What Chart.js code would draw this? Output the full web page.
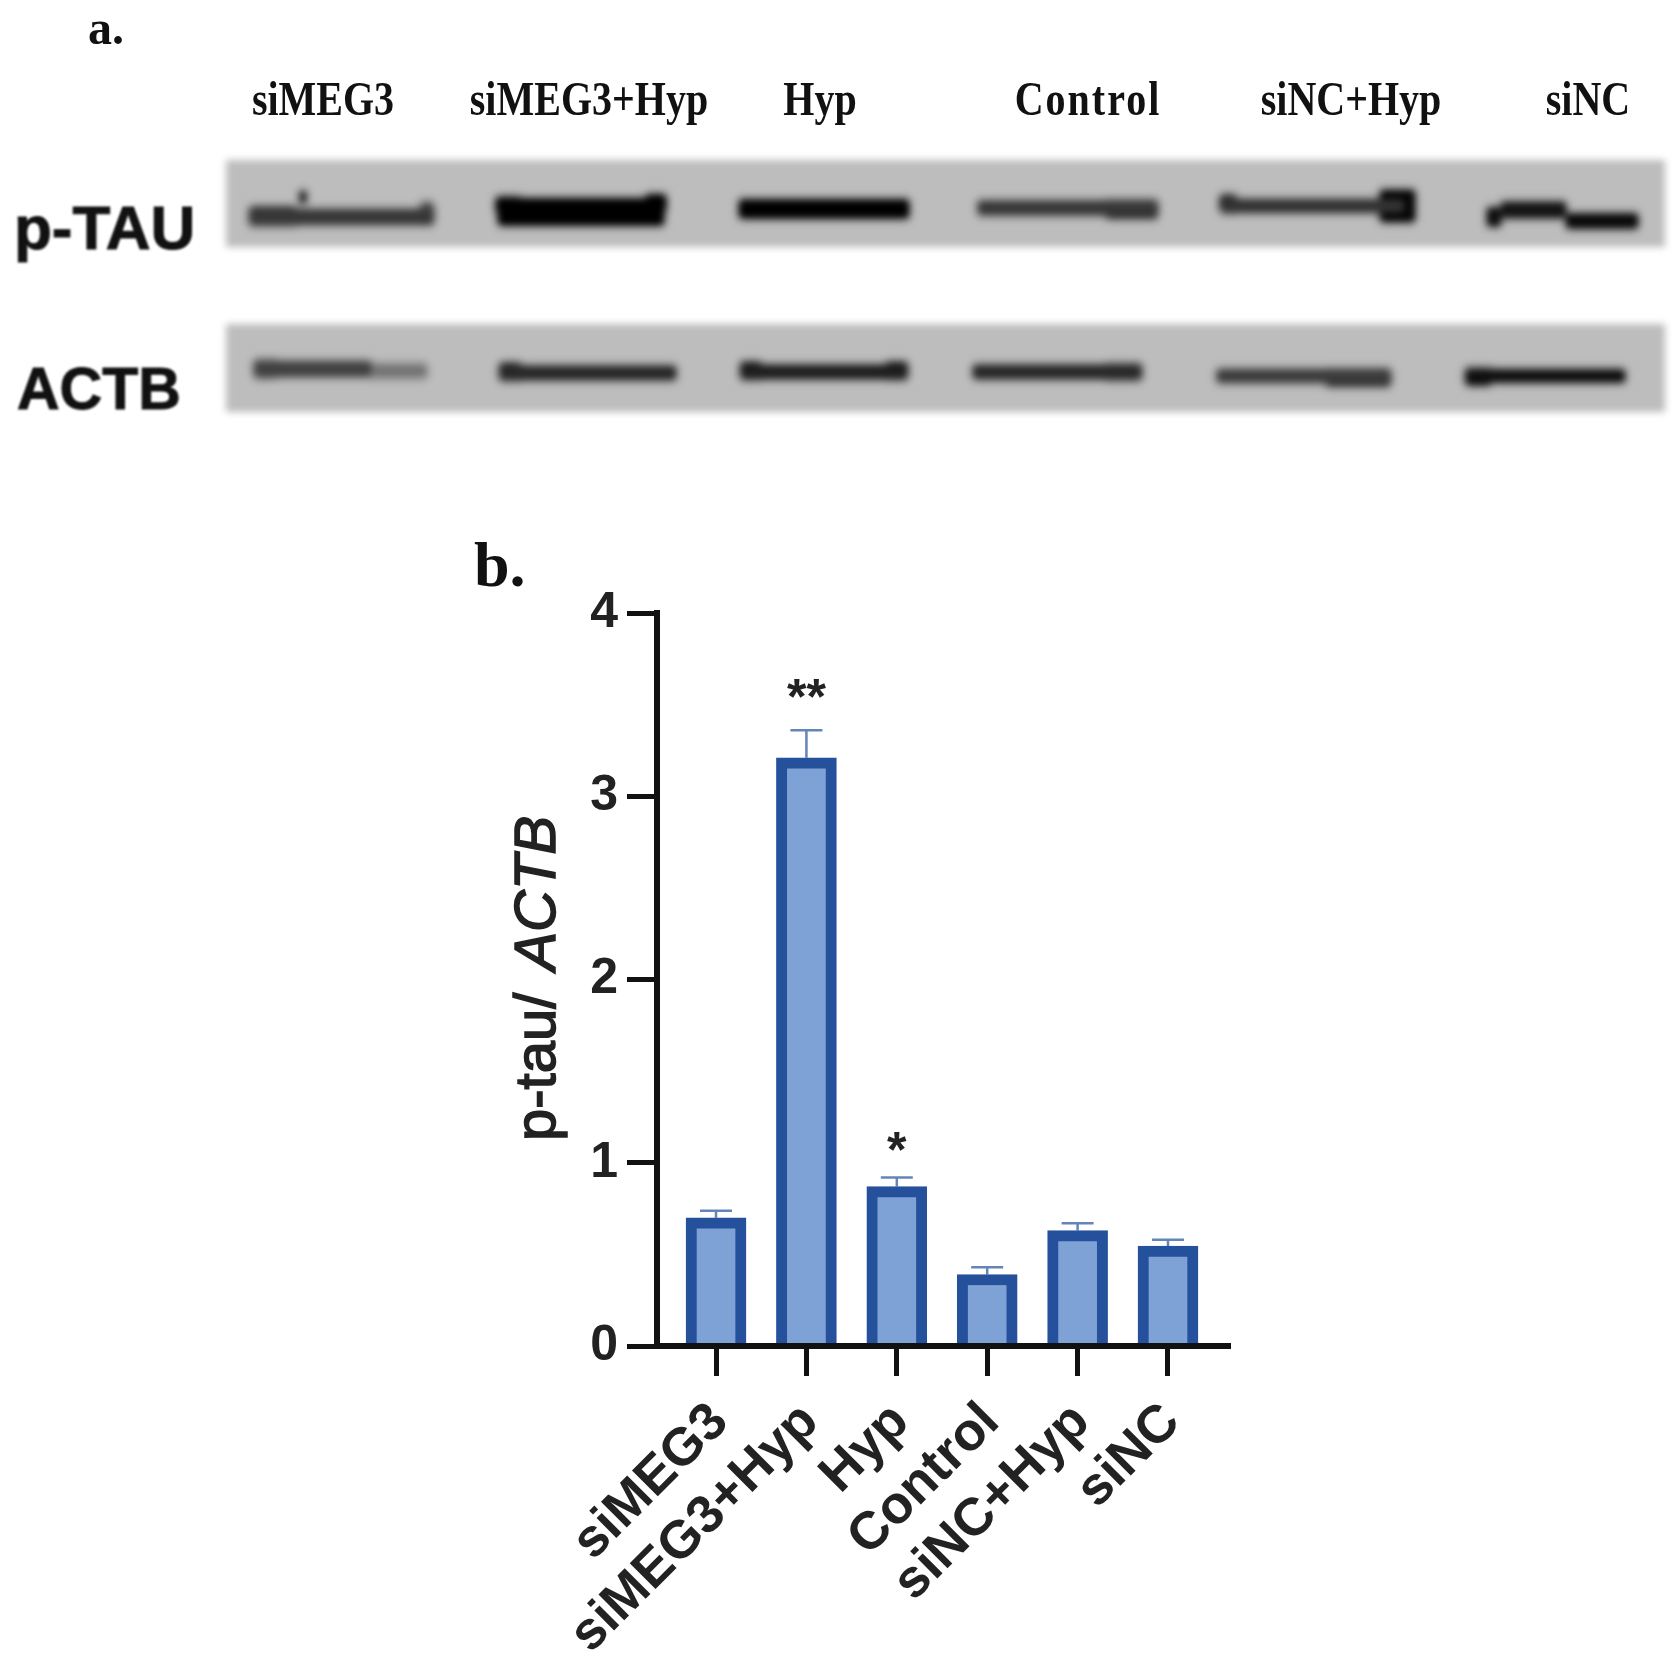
<!DOCTYPE html>
<html>
<head>
<meta charset="utf-8">
<title>p-tau / ACTB</title>
<script src="https://cdn.jsdelivr.net/npm/chart.js@4"></script>
<style>
    html, body { margin: 0; padding: 0; background: #fff; }
    #page { position: relative; width: 1679px; height: 1668px; overflow: hidden; filter: blur(0.6px); }
    #page canvas { position: absolute; display: block; }
    .gel { background: #bdbdbd; filter: blur(3.5px); }
    .panel { position: absolute; font: bold 48px "Liberation Serif", serif; color: #111; line-height: 1; white-space: nowrap; }
    .lane { position: absolute; top: 83px; font: bold 40px "Liberation Serif", serif; color: #111; line-height: 1; white-space: nowrap; transform: translateX(-50%) scaleY(1.2); transform-origin: 50% 100%; }
    .gel-name { position: absolute; font: bold 59px "Liberation Sans", Arial, sans-serif; color: #111; line-height: 1; white-space: nowrap; filter: blur(1.2px); -webkit-text-stroke: 1px #111; }
</style>
</head>
<body>
<div id="page">
    <div class="panel" style="left:88px; top:4px;">a.</div>
    <div class="panel" style="left:474px; top:533px; font-size:64px;">b.</div>

    <div class="lane" style="left:323px;">siMEG3</div>
    <div class="lane" style="left:589px;">siMEG3+Hyp</div>
    <div class="lane" style="left:820px;">Hyp</div>
    <div class="lane" style="left:1088px; letter-spacing:2px;">Control</div>
    <div class="lane" style="left:1351px;">siNC+Hyp</div>
    <div class="lane" style="left:1588px;">siNC</div>

    <div class="gel-name" style="left:14px; top:197px; font-size:62px;">p-TAU</div>
    <div class="gel-name" style="left:17px; top:360px;">ACTB</div>

    <canvas id="pTauGel" class="gel" width="1439" height="87" style="left:226px; top:160px;"></canvas>
    <canvas id="actbGel" class="gel" width="1439" height="88" style="left:226px; top:324px;"></canvas>
    <canvas id="barChart" width="760" height="1094" style="left:480px; top:574px;"></canvas>
</div>

<script>
// bar chart data
var categories = ["siMEG3", "siMEG3+Hyp", "Hyp", "Control", "siNC+Hyp", "siNC"];
var ratioValues = [0.70, 3.21, 0.87, 0.39, 0.63, 0.545];
var errorTops = [0.738, 3.36, 0.92, 0.43, 0.67, 0.58];
var significance = ["", "**", "*", "", "", ""];
var yTicks = [0, 1, 2, 3, 4];

// blot bands: start, end, middle, thickness, grey level
var pTauFrom = [24, 24, 195, 74, 272, 270, 420, 513, 752, 880, 996, 994, 1154, 1261, 1275, 1340];
var pTauTo = [207, 70, 207, 80, 438, 295, 440, 683, 931, 931, 1178, 1010, 1189, 1275, 1340, 1412];
var pTauMid = [57, 56, 52, 37, 52, 45, 43, 49, 48, 50, 46, 43, 46, 57, 50, 61];
var pTauThick = [15, 17, 18, 11, 27, 15, 17, 19, 14, 16, 13, 16, 32, 19, 16, 15];
var pTauGrey = [55, 40, 70, 20, 0, 0, 0, 0, 55, 30, 50, 40, 5, 15, 20, 10];

var actbFrom = [29, 145, 29, 274, 274, 515, 515, 660, 747, 880, 991, 1100, 1240, 1240];
var actbTo = [145, 200, 50, 450, 295, 681, 535, 681, 915, 915, 1164, 1164, 1399, 1265];
var actbMid = [45, 47, 45, 49, 47, 48, 46, 46, 48, 48, 52, 55, 52, 53];
var actbThick = [15, 12, 15, 14, 15, 14, 15, 15, 14, 14, 13, 14, 13, 16];
var actbGrey = [65, 115, 50, 40, 25, 30, 10, 10, 40, 25, 60, 40, 15, 5];

var sansFont = '"Liberation Sans", Arial, sans-serif';

function drawGel(canvasId, from, to, mid, thick, grey) {
    var canvas = document.getElementById(canvasId);
    var bands = from.map(function (start, i) {
        var g = grey[i];
        return {
            data: [{ x: [start, to[i]], y: mid[i] }],
            backgroundColor: "rgb(" + g + "," + g + "," + g + ")",
            barThickness: thick[i],
            borderRadius: 5,
            borderSkipped: false,
            grouped: false
        };
    });
    // faint smear round each band
    var halos = from.map(function (start, i) {
        return {
            data: [{ x: [start - 4, to[i] + 4], y: mid[i] }],
            backgroundColor: "rgba(0,0,0,0.13)",
            barThickness: thick[i] + 10,
            borderRadius: 8,
            borderSkipped: false,
            grouped: false
        };
    });
    new Chart(canvas, {
        type: "bar",
        data: { datasets: bands.concat(halos) },
        options: {
            indexAxis: "y",
            responsive: false,
            animation: false,
            plugins: { legend: { display: false }, tooltip: { enabled: false } },
            scales: {
                x: { type: "linear", display: false, min: 0, max: canvas.width },
                y: { type: "linear", display: false, min: 0, max: canvas.height, reverse: true, offset: false }
            }
        }
    });
}

drawGel("pTauGel", pTauFrom, pTauTo, pTauMid, pTauThick, pTauGrey);
drawGel("actbGel", actbFrom, actbTo, actbMid, actbThick, actbGrey);

// error bars and asterisks, placed through the chart's own scales
var errorBars = {
    id: "errorBars",
    beforeDatasetsDraw: function (chart) {
        var ctx = chart.ctx;
        var x = chart.scales.x;
        var y = chart.scales.y;
        ctx.save();
        ctx.strokeStyle = "#6485b8";
        ctx.lineWidth = 2.5;
        errorTops.forEach(function (top, i) {
            var px = x.getPixelForValue(i);
            var pTop = y.getPixelForValue(top);
            ctx.beginPath();
            ctx.moveTo(px, y.getPixelForValue(ratioValues[i]));
            ctx.lineTo(px, pTop);
            ctx.moveTo(px - 16, pTop);
            ctx.lineTo(px + 16, pTop);
            ctx.stroke();
        });
        ctx.restore();
    },
    afterDatasetsDraw: function (chart) {
        var ctx = chart.ctx;
        var x = chart.scales.x;
        var y = chart.scales.y;
        ctx.save();
        ctx.fillStyle = "#222";
        ctx.font = "bold 50px " + sansFont;
        ctx.textAlign = "center";
        ctx.textBaseline = "alphabetic";
        significance.forEach(function (mark, i) {
            if (mark) {
                var gap = mark.length == 2 ? 16 : 10;
                ctx.fillText(mark, x.getPixelForValue(i), y.getPixelForValue(errorTops[i]) - gap);
            }
        });
        ctx.restore();
    }
};

// axis title has an italic part, so it is drawn in two pieces
var yAxisTitle = {
    id: "yAxisTitle",
    afterDraw: function (chart) {
        var ctx = chart.ctx;
        ctx.save();
        ctx.translate(75, 567);
        ctx.rotate(-Math.PI / 2);
        ctx.fillStyle = "#222";
        ctx.strokeStyle = "#222";
        ctx.lineWidth = 1.5;
        ctx.textBaseline = "alphabetic";
        ctx.font = "58px " + sansFont;
        ctx.fillText("p-tau/ ", 0, 0);
        ctx.strokeText("p-tau/ ", 0, 0);
        var w = ctx.measureText("p-tau/ ").width + 6;
        ctx.font = "italic 58px " + sansFont;
        ctx.fillText("ACTB", w, 0);
        ctx.strokeText("ACTB", w, 0);
        ctx.restore();
    }
};

new Chart(document.getElementById("barChart"), {
    type: "bar",
    data: {
        datasets: [{
            data: ratioValues.map(function (v, i) { return { x: i, y: v }; }),
            backgroundColor: "#7ea1d6",
            borderColor: "#25509c",
            borderWidth: 11,
            borderSkipped: "bottom",
            barThickness: 60
        }]
    },
    options: {
        responsive: false,
        animation: false,
        layout: { padding: { left: 0, right: 10, top: 9, bottom: 0 } },
        plugins: { legend: { display: false }, tooltip: { enabled: false } },
        scales: {
            x: {
                type: "linear",
                offset: false,
                min: -0.653,
                max: 5.686,
                afterBuildTicks: function (axis) {
                    axis.ticks = categories.map(function (c, i) { return { value: i }; });
                },
                afterFit: function (axis) { axis.height = 322; },
                grid: { offset: false, drawOnChartArea: false, drawTicks: true, tickLength: 30, tickWidth: 5, tickColor: "#111", z: 1 },
                border: { color: "#111", width: 6, z: 1 },
                ticks: {
                    autoSkip: false,
                    minRotation: 45,
                    maxRotation: 45,
                    padding: 15,
                    labelOffset: 4,
                    color: "#222",
                    font: { family: sansFont, size: 53, weight: "bold" },
                    callback: function (value) { return categories[value]; }
                }
            },
            y: {
                min: 0,
                max: 4,
                afterBuildTicks: function (axis) {
                    axis.ticks = yTicks.map(function (v) { return { value: v }; });
                },
                afterFit: function (axis) { axis.width = 177; },
                grid: { drawOnChartArea: false, drawTicks: true, tickLength: 30, tickWidth: 5, tickColor: "#111", z: 1 },
                border: { color: "#111", width: 6, z: 1 },
                ticks: {
                    padding: 9,
                    color: "#222",
                    font: { family: sansFont, size: 50, weight: "bold" }
                }
            }
        }
    },
    plugins: [errorBars, yAxisTitle]
});
</script>
</body>
</html>
